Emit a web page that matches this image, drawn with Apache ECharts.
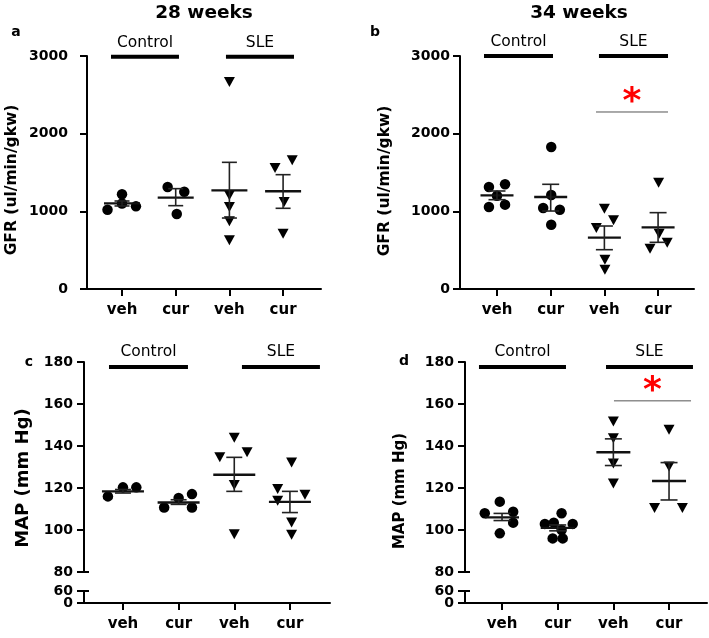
<!DOCTYPE html>
<html>
<head>
<meta charset="utf-8">
<script src="https://cdn.jsdelivr.net/npm/echarts@6/dist/echarts.min.js"></script>
<style>html,body{margin:0;padding:0;background:#fff}#c{width:709px;height:638px}</style>
</head>
<body>
<div id="c"></div>
<script>
// ---------- labels ----------
const panelTitles = ['28 weeks', '34 weeks'];
const groupNames = ['Control', 'SLE'];
const treatments = ['veh', 'cur', 'veh', 'cur'];
const gfrTicks = [0, 1000, 2000, 3000];
const mapTicks = [80, 100, 120, 140, 160, 180];
const mapLowTicks = [0, 60];

// ---------- Panel a: GFR 28 weeks  [x position (jittered group index), value] ----------
const gfr28CtrlVeh = [[0.73, 1021], [1.0, 1219], [1.0, 1100], [1.26, 1064]];
const gfr28CtrlCur = [[1.85, 1313], [2.16, 1253], [2.02, 966]];
const gfr28SleVeh  = [[3.0, 2665], [3.0, 1206], [3.0, 1056], [3.0, 871], [3.0, 627]];
const gfr28SleCur  = [[3.85, 1558], [4.17, 1657], [4.02, 1120], [4.0, 712]];
// [group, mean, mean-SEM, mean+SEM]
const gfr28Stats   = [[1, 1103, 1069, 1133], [2, 1176, 1073, 1292], [3, 1270, 914, 1631], [4, 1258, 1039, 1472]];

// ---------- Panel b: GFR 34 weeks ----------
const gfr34CtrlVeh = [[0.85, 1313], [1.15, 1348], [0.85, 1056], [1.15, 1086], [1.0, 1200]];
const gfr34CtrlCur = [[2.01, 1828], [1.86, 1043], [2.17, 1021], [2.01, 828], [2.01, 1210]];
const gfr34SleVeh  = [[3.0, 1034], [3.17, 884], [2.85, 785], [3.01, 378], [3.01, 249]];
const gfr34SleCur  = [[4.01, 1369], [4.02, 712], [3.85, 519], [4.17, 597]];
const gfr34Stats   = [[1, 1206, 1150, 1262], [2, 1185, 1004, 1348], [3, 661, 506, 811], [4, 794, 601, 983]];

// ---------- Panel c: MAP 28 weeks ----------
const map28CtrlVeh = [[0.73, 116.0], [1.0, 120.3], [1.24, 120.3]];
const map28CtrlCur = [[1.74, 110.7], [2.0, 115.2], [2.24, 117.1], [2.24, 110.7]];
const map28SleVeh  = [[3.0, 143.9], [2.74, 134.6], [3.23, 137.0], [3.0, 121.4], [3.0, 98.0]];
const map28SleCur  = [[4.03, 132.2], [3.78, 119.5], [4.27, 116.8], [3.78, 113.9], [4.03, 103.6], [4.03, 97.7]];
const map28Stats   = [[1, 118.4, 117.6, 119.3], [2, 113.1, 112.2, 114.4], [3, 126.3, 118.4, 134.6], [4, 113.4, 108.3, 118.4]];

// ---------- Panel d: MAP 34 weeks ----------
const map34CtrlVeh = [[0.96, 113.5], [0.69, 108.0], [1.2, 108.7], [1.2, 103.5], [0.96, 98.4]];
const map34CtrlCur = [[2.07, 108.0], [1.77, 102.9], [1.93, 103.5], [2.27, 102.9], [2.07, 100.0], [1.91, 96.0], [2.09, 96.0]];
const map34SleVeh  = [[3.0, 151.7], [3.0, 143.7], [3.0, 131.7], [3.0, 122.2]];
const map34SleCur  = [[4.0, 147.7], [4.0, 130.2], [3.74, 110.5], [4.24, 110.5]];
const map34Stats   = [[1, 106.0, 104.5, 107.9], [2, 101.0, 99.6, 102.4], [3, 137.0, 130.7, 143.4], [4, 123.3, 114.3, 132.1]];

// ---------- annotations (in data units) ----------
const groupBarsA = [[0.795, 2.061, 2990], [2.936, 4.203, 2990]];
const groupBarsB = [[0.758, 2.043, 3000], [2.899, 4.185, 3000]];
const groupBarsC = [[0.749, 2.168, 177.6], [3.138, 4.539, 177.6]];
const groupBarsD = [[0.586, 2.149, 177.6], [2.868, 4.43, 177.6]];
const sigB = [[2.844, 4.185, 2279]];
const sigD = [[3.011, 4.395, 161.5]];

// ---------- drawing ----------
const FONT = 'DejaVu Sans';
const chart = echarts.init(document.getElementById('c'), null, {renderer: 'canvas'});

const layouts = [
  {left: 87, top: 56, width: 234, height: 233, xmin: 0.348, xmax: 4.706},   // a
  {left: 460, top: 56, width: 234, height: 233, xmin: 0.311, xmax: 4.669},  // b
  {left: 84, top: 362, width: 246, height: 210, xmin: 0.3, xmax: 4.72},     // c upper
  {left: 84, top: 591, width: 246, height: 12, xmin: 0.3, xmax: 4.72},      // c lower
  {left: 465, top: 362, width: 242, height: 210, xmin: 0.335, xmax: 4.682}, // d upper
  {left: 465, top: 591, width: 242, height: 12, xmin: 0.335, xmax: 4.682}   // d lower
];
const showX = [true, true, false, true, false, true];
// y axes: one per grid, plus two extra on the lower broken-axis grids carrying the "60" label
const yCfg = [
  {grid: 0, min: 0, max: 3000, ticks: gfrTicks, labels: gfrTicks, margin: 19, line: true},
  {grid: 1, min: 0, max: 3000, ticks: gfrTicks, labels: gfrTicks, margin: 10, line: true},
  {grid: 2, min: 80, max: 180, ticks: mapTicks, labels: mapTicks, margin: 11, line: true},
  {grid: 3, min: 0, max: 60, ticks: mapLowTicks, labels: [mapLowTicks[0]], margin: 11, line: true},
  {grid: 4, min: 80, max: 180, ticks: mapTicks, labels: mapTicks, margin: 11, line: true},
  {grid: 5, min: 0, max: 60, ticks: mapLowTicks, labels: [mapLowTicks[0]], margin: 11, line: true},
  {grid: 3, min: 0, max: 60, ticks: [], labels: [mapLowTicks[1]], margin: 11, line: false},
  {grid: 5, min: 0, max: 60, ticks: [], labels: [mapLowTicks[1]], margin: 11, line: false}
];

const grids = layouts.map(l => ({left: l.left, top: l.top, width: l.width, height: l.height, containLabel: false}));
const xAxes = layouts.map((l, i) => ({
  type: 'value', gridIndex: i, min: l.xmin, max: l.xmax, show: showX[i],
  axisLine: {onZero: false, lineStyle: {color: '#000', width: 2}},
  axisTick: {customValues: [1, 2, 3, 4], length: 7, lineStyle: {color: '#000', width: 2}},
  axisLabel: {customValues: [1, 2, 3, 4], formatter: v => treatments[Math.round(v) - 1],
    color: '#000', fontFamily: FONT, fontWeight: 'bold', fontSize: 15, margin: 14},
  splitLine: {show: false}
}));
const yAxes = yCfg.map(c => ({
  type: 'value', gridIndex: c.grid, min: c.min, max: c.max, position: 'left', offset: 0,
  axisLine: {show: c.line, onZero: false, lineStyle: {color: '#000', width: 2}},
  axisTick: {show: c.ticks.length > 0, customValues: c.ticks, length: 7, lineStyle: {color: '#000', width: 2}},
  axisLabel: {customValues: c.labels, formatter: v => String(v), hideOverlap: false, showMinLabel: true, showMaxLabel: true,
    color: '#000', fontFamily: FONT, fontWeight: 'bold', fontSize: 14, margin: c.margin},
  splitLine: {show: false}
}));

function pts(ax, data, sym) {
  return {
    type: 'scatter', xAxisIndex: ax, yAxisIndex: ax, data: data,
    symbol: sym === 'tri' ? 'triangle' : 'circle',
    symbolRotate: sym === 'tri' ? 180 : 0,
    symbolSize: sym === 'tri' ? [11, 10] : 10.5,
    itemStyle: {color: '#000', opacity: 1}, z: 3, silent: true
  };
}
function errBars(ax, stats, hm, hc) {
  return {
    type: 'custom', xAxisIndex: ax, yAxisIndex: ax, data: stats, clip: false, z: 4, silent: true,
    encode: {x: 0, y: [1, 2, 3]},
    renderItem: (p, api) => {
      const x = api.value(0);
      const pm = api.coord([x, api.value(1)]);
      const pl = api.coord([x, api.value(2)]);
      const ph = api.coord([x, api.value(3)]);
      const st = {stroke: '#222', lineWidth: 1.6};
      return {type: 'group', children: [
        {type: 'line', shape: {x1: pm[0] - hm, y1: pm[1], x2: pm[0] + hm, y2: pm[1]}, style: {stroke: '#111', lineWidth: 2.4}},
        {type: 'line', shape: {x1: pl[0], y1: pl[1], x2: ph[0], y2: ph[1]}, style: st},
        {type: 'line', shape: {x1: pl[0] - hc, y1: pl[1], x2: pl[0] + hc, y2: pl[1]}, style: st},
        {type: 'line', shape: {x1: ph[0] - hc, y1: ph[1], x2: ph[0] + hc, y2: ph[1]}, style: st}
      ]};
    }
  };
}
function groupBars(ax, bars, labelGap) {
  return {
    type: 'custom', xAxisIndex: ax, yAxisIndex: ax, data: bars, clip: false, z: 5, silent: true,
    encode: {x: [0, 1], y: 2},
    renderItem: (p, api) => {
      const a = api.coord([api.value(0), api.value(2)]);
      const b = api.coord([api.value(1), api.value(2)]);
      return {type: 'group', children: [
        {type: 'line', shape: {x1: a[0], y1: a[1], x2: b[0], y2: b[1]}, style: {stroke: '#000', lineWidth: 4}},
        {type: 'text', style: {text: groupNames[p.dataIndex], x: (a[0] + b[0]) / 2, y: a[1] - labelGap,
          align: 'center', verticalAlign: 'middle', fontFamily: FONT, fontSize: 15.5, fill: '#000'}}
      ]};
    }
  };
}
function sigLine(ax, sig) {
  return {
    type: 'custom', xAxisIndex: ax, yAxisIndex: ax, data: sig, clip: false, z: 5, silent: true,
    encode: {x: [0, 1], y: 2},
    renderItem: (p, api) => {
      const a = api.coord([api.value(0), api.value(2)]);
      const b = api.coord([api.value(1), api.value(2)]);
      return {type: 'group', children: [
        {type: 'line', shape: {x1: a[0], y1: a[1], x2: b[0], y2: b[1]}, style: {stroke: '#555', lineWidth: 1}},
        {type: 'text', style: {text: '*', x: (a[0] + b[0]) / 2, y: a[1] - 9,
          align: 'center', verticalAlign: 'middle', fontFamily: FONT, fontWeight: 'bold', fontSize: 36, fill: '#ff0000'}}
      ]};
    }
  };
}
function breakCap(ax, yv, xv) {
  return {
    type: 'custom', xAxisIndex: ax, yAxisIndex: ax, data: [[xv, yv]], clip: false, z: 5, silent: true,
    encode: {x: 0, y: 1},
    renderItem: (p, api) => {
      const c = api.coord([api.value(0), api.value(1)]);
      return {type: 'line', shape: {x1: c[0] - 6, y1: c[1], x2: c[0] + 5, y2: c[1]}, style: {stroke: '#000', lineWidth: 2}};
    }
  };
}

const series = [
  pts(0, gfr28CtrlVeh.concat(gfr28CtrlCur), 'dot'), pts(0, gfr28SleVeh.concat(gfr28SleCur), 'tri'),
  errBars(0, gfr28Stats, 18, 7.5), groupBars(0, groupBarsA, 14),
  pts(1, gfr34CtrlVeh.concat(gfr34CtrlCur), 'dot'), pts(1, gfr34SleVeh.concat(gfr34SleCur), 'tri'),
  errBars(1, gfr34Stats, 16.5, 8.5), groupBars(1, groupBarsB, 14), sigLine(1, sigB),
  pts(2, map28CtrlVeh.concat(map28CtrlCur), 'dot'), pts(2, map28SleVeh.concat(map28SleCur), 'tri'),
  errBars(2, map28Stats, 21, 8), groupBars(2, groupBarsC, 15),
  breakCap(2, 80, layouts[2].xmin), breakCap(3, 60, layouts[3].xmin),
  pts(4, map34CtrlVeh.concat(map34CtrlCur), 'dot'), pts(4, map34SleVeh.concat(map34SleCur), 'tri'),
  errBars(4, map34Stats, 17, 8.5), groupBars(4, groupBarsD, 15), sigLine(4, sigD),
  breakCap(4, 80, layouts[4].xmin), breakCap(5, 60, layouts[5].xmin)
];

function txt(text, x, y, size, weight, rot) {
  return {type: 'text', x: x, y: y, rotation: rot || 0, silent: true,
    style: {text: text, align: 'center', verticalAlign: 'middle', fontFamily: FONT, fontSize: size, fontWeight: weight, fill: '#000'}};
}
const graphics = [
  txt(panelTitles[0], 204, 13, 18.5, 'bold'), txt(panelTitles[1], 579, 13, 18.5, 'bold'),
  txt('a', 16, 32, 14, 'bold'), txt('b', 375, 32, 14, 'bold'),
  txt('c', 29, 362, 14, 'bold'), txt('d', 404, 361, 14, 'bold'),
  txt('GFR (ul/min/gkw)', 12, 180, 15.5, 'bold', Math.PI / 2),
  txt('GFR (ul/min/gkw)', 385, 181, 15.5, 'bold', Math.PI / 2),
  txt('MAP (mm Hg)', 23, 478, 18, 'bold', Math.PI / 2),
  txt('MAP (mm Hg)', 400, 491, 15, 'bold', Math.PI / 2)
];

chart.setOption({
  animation: false,
  backgroundColor: '#fff',
  grid: grids, xAxis: xAxes, yAxis: yAxes,
  series: series,
  graphic: graphics
});
</script>
</body>
</html>
